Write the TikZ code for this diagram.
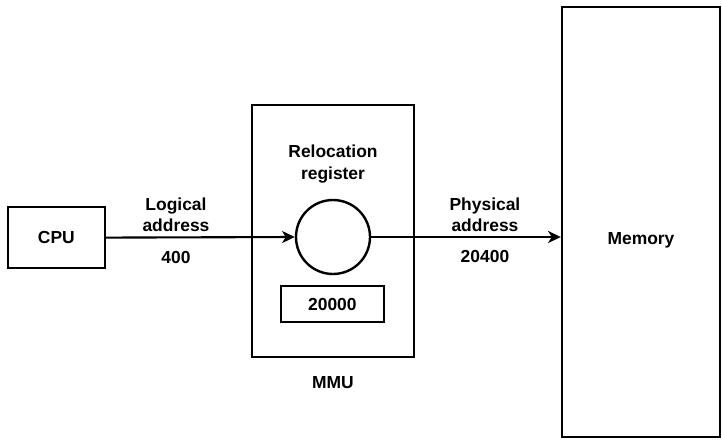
\documentclass[tikz,border=0pt]{standalone}
\usepackage{fontspec}
\setmainfont{Liberation Sans}
\usetikzlibrary{arrows.meta, positioning}
\newcommand{\lblfont}{\fontsize{12.4}{15}\selectfont\bfseries}

\begin{document}
\begin{tikzpicture}[
    box/.style={rectangle, draw, line width=1.7pt, inner sep=0pt,
                font=\lblfont, align=center},
    txt/.style={font=\lblfont, align=center, inner sep=2pt},
    arr/.style={-{Stealth[length=9pt, width=8.5pt, inset=2.5pt]}, line width=1.5pt}
  ]
  \useasboundingbox (0,0) rectangle (18.05,-11.025);

  \node[box, minimum width=2.43cm, minimum height=1.53cm] (cpu) at (1.41,-5.94) {CPU};
  \node[box, minimum width=4.05cm, minimum height=6.3cm] (mmu) at (8.325,-5.775) {};
  \node[box, circle, minimum size=1.85cm] (add) at (8.325,-5.925) {};
  \node[box, minimum width=2.575cm, minimum height=0.9cm] (reg) at (8.31,-7.6) {20000};
  \node[box, minimum width=3.95cm, minimum height=10.75cm,
        label={[txt, yshift=-0.45cm]center:Memory}] (mem) at (16.025,-5.55) {};

  \node[txt] (regname) at (8.325,-4.1) {Relocation\\register};
  \node[txt] (mmuname) at (8.325,-9.575) {MMU};

  % addresses
  \draw[arr] (cpu.east) -- (add.west)
        node[txt, pos=0.37, above=1pt] (laddr) {Logical\\address}
        node[txt, pos=0.37, below=7pt] (lval) {400};
  \draw[arr] (add.east) -- (add.east -| mem.west)
        node[txt, pos=0.6, above=1pt] (paddr) {Physical\\address}
        node[txt, pos=0.6, below=7pt] (pval) {20400};
\end{tikzpicture}
\end{document}
